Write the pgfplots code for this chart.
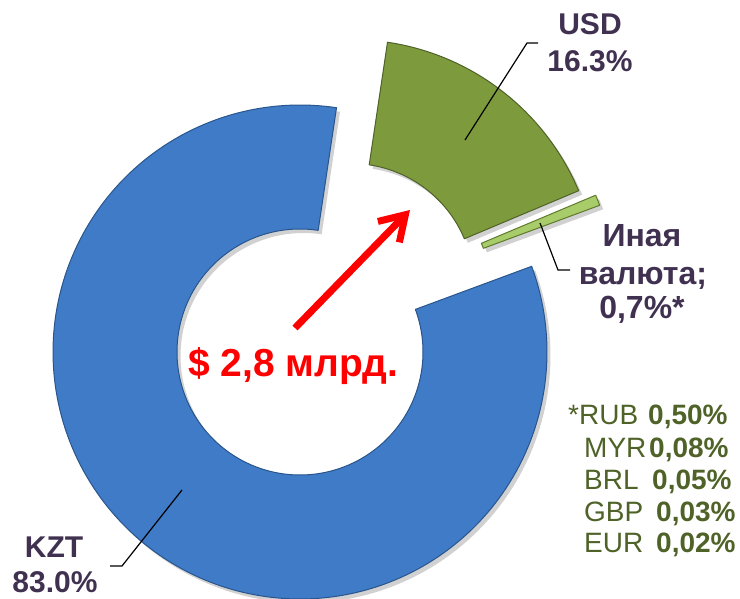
\documentclass[border=0pt]{standalone}
\usepackage{pgfplots}
\usepackage{pgfplotstable}
\pgfplotsset{compat=1.18}
\usetikzlibrary{arrows.meta}
\usepackage{fontspec}
\setmainfont{Liberation Sans}
\definecolor{lbl}{HTML}{403151}
\definecolor{lst}{HTML}{4F6228}
\definecolor{kztfill}{HTML}{3F7BC6}
\definecolor{kztedge}{HTML}{2A558C}
\definecolor{usdfill}{HTML}{7D9B3C}
\definecolor{usdedge}{HTML}{4F6228}
\definecolor{othfill}{HTML}{A9CC6B}
\definecolor{othedge}{HTML}{5E7A2C}

\pgfplotstableread{
name pct
KZT 83.0
USD 16.3
Other 0.7
}\shares
\pgfplotstablegetelem{0}{pct}\of\shares \let\pKZT\pgfplotsretval
\pgfplotstablegetelem{1}{pct}\of\shares \let\pUSD\pgfplotsretval
\pgfplotstablegetelem{2}{pct}\of\shares \let\pOTH\pgfplotsretval

% geometry (1 unit = 1 px)
\def\cx{300}\def\cy{246}\def\Ro{247}\def\Ri{123}
\pgfmathsetmacro{\aStart}{81.5}
\pgfmathsetmacro{\aUSD}{\aStart-3.6*\pUSD}
\pgfmathsetmacro{\aOTH}{\aUSD-3.6*\pOTH}
\pgfmathsetmacro{\aKZT}{\aOTH-3.6*\pKZT}

% #1 style, #3 a1, #4 a2, #5 dx, #6 dy
\newcommand{\sector}[5]{%
\addplot[#1, line join=round, variable=\t,
  samples at={0,0.005,...,0.9975,1,1.0001,1.005,1.01,...,1.9975,2}]
 ({\cx+#4+ifthenelse(\t<=1, \Ro*cos(#2+(#3-#2)*\t), \Ri*cos(#3-(#3-#2)*(\t-1)))},
  {\cy+#5+ifthenelse(\t<=1, \Ro*sin(#2+(#3-#2)*\t), \Ri*sin(#3-(#3-#2)*(\t-1)))}) -- cycle;}

\begin{document}
\begin{tikzpicture}
\useasboundingbox (0,0) rectangle (740pt,598pt);
\begin{axis}[x=1pt, y=1pt, xmin=0, xmax=740, ymin=0, ymax=598,
  hide axis, clip=false, scale only axis, anchor=origin, at={(0,0)}]
% soft shadows
\sector{draw=none, fill=black, fill opacity=0.18}{\aKZT}{\aOTH}{3.5}{-4}
\sector{draw=none, fill=black, fill opacity=0.18}{\aUSD}{\aStart}{54.5}{61.5}
\sector{draw=none, fill=black, fill opacity=0.18}{\aOTH}{\aUSD}{71.5}{57}
% pieces
\sector{fill=kztfill, draw=kztedge, line width=1pt}{\aKZT}{\aOTH}{0}{0}
\sector{fill=usdfill, draw=usdedge, line width=1pt}{\aUSD}{\aStart}{51}{65.5}
\sector{fill=othfill, draw=othedge, line width=1pt}{\aOTH}{\aUSD}{68}{61}

% leader lines
\draw[black, line width=1.2pt] (axis cs:465,458) -- (axis cs:527,555) -- (axis cs:538,555);
\draw[black, line width=1.2pt] (axis cs:540,375) -- (axis cs:558,328) -- (axis cs:570,328);
\draw[black, line width=1.2pt] (axis cs:182,108) -- (axis cs:122,32) -- (axis cs:110,32);

% arrow
\draw[red, line width=7pt, -{Straight Barb[length=24pt,width=30pt]}] (axis cs:295,270) -- (axis cs:410,388);

% labels
\node[anchor=base, text=lbl, font=\fontsize{30}{36}\selectfont\bfseries, inner sep=0] at (axis cs:590,563) {USD};
\node[anchor=base, text=lbl, font=\fontsize{30}{36}\selectfont\bfseries, inner sep=0] at (axis cs:590,526) {16.3\%};
\node[anchor=base, text=lbl, font=\fontsize{32}{36}\selectfont\bfseries, inner sep=0] at (axis cs:642,351) {Иная};
\node[anchor=base, text=lbl, font=\fontsize{32}{36}\selectfont\bfseries, inner sep=0] at (axis cs:643,313) {валюта;};
\node[anchor=base, text=lbl, font=\fontsize{32}{36}\selectfont\bfseries, inner sep=0] at (axis cs:642,279) {0,7\%*};
\node[anchor=base, text=lbl, font=\fontsize{30}{36}\selectfont\bfseries, inner sep=0] at (axis cs:54,40) {KZT};
\node[anchor=base, text=lbl, font=\fontsize{30}{36}\selectfont\bfseries, inner sep=0] at (axis cs:55,6) {83.0\%};

\node[anchor=base west, text=red, font=\fontsize{39}{46}\selectfont\bfseries, inner sep=0] at (axis cs:188,221) {\$ 2,8 млрд.};

% list
\node[anchor=base west, text=lst, font=\fontsize{28}{32}\selectfont, inner sep=0] at (axis cs:568,173) {*RUB};
\node[anchor=base west, text=lst, font=\fontsize{28}{32}\selectfont, inner sep=0] at (axis cs:584,140) {MYR};
\node[anchor=base west, text=lst, font=\fontsize{28}{32}\selectfont, inner sep=0] at (axis cs:584,108) {BRL};
\node[anchor=base west, text=lst, font=\fontsize{28}{32}\selectfont, inner sep=0] at (axis cs:584,76) {GBP};
\node[anchor=base west, text=lst, font=\fontsize{28}{32}\selectfont, inner sep=0] at (axis cs:584,45) {EUR};
\node[anchor=base west, text=lst, font=\fontsize{28}{32}\selectfont\bfseries, inner sep=0] at (axis cs:648,173) {0,50\%};
\node[anchor=base west, text=lst, font=\fontsize{28}{32}\selectfont\bfseries, inner sep=0] at (axis cs:649,140) {0,08\%};
\node[anchor=base west, text=lst, font=\fontsize{28}{32}\selectfont\bfseries, inner sep=0] at (axis cs:652,108) {0,05\%};
\node[anchor=base west, text=lst, font=\fontsize{28}{32}\selectfont\bfseries, inner sep=0] at (axis cs:656,76) {0,03\%};
\node[anchor=base west, text=lst, font=\fontsize{28}{32}\selectfont\bfseries, inner sep=0] at (axis cs:656,45) {0,02\%};
\end{axis}
\end{tikzpicture}
\end{document}
